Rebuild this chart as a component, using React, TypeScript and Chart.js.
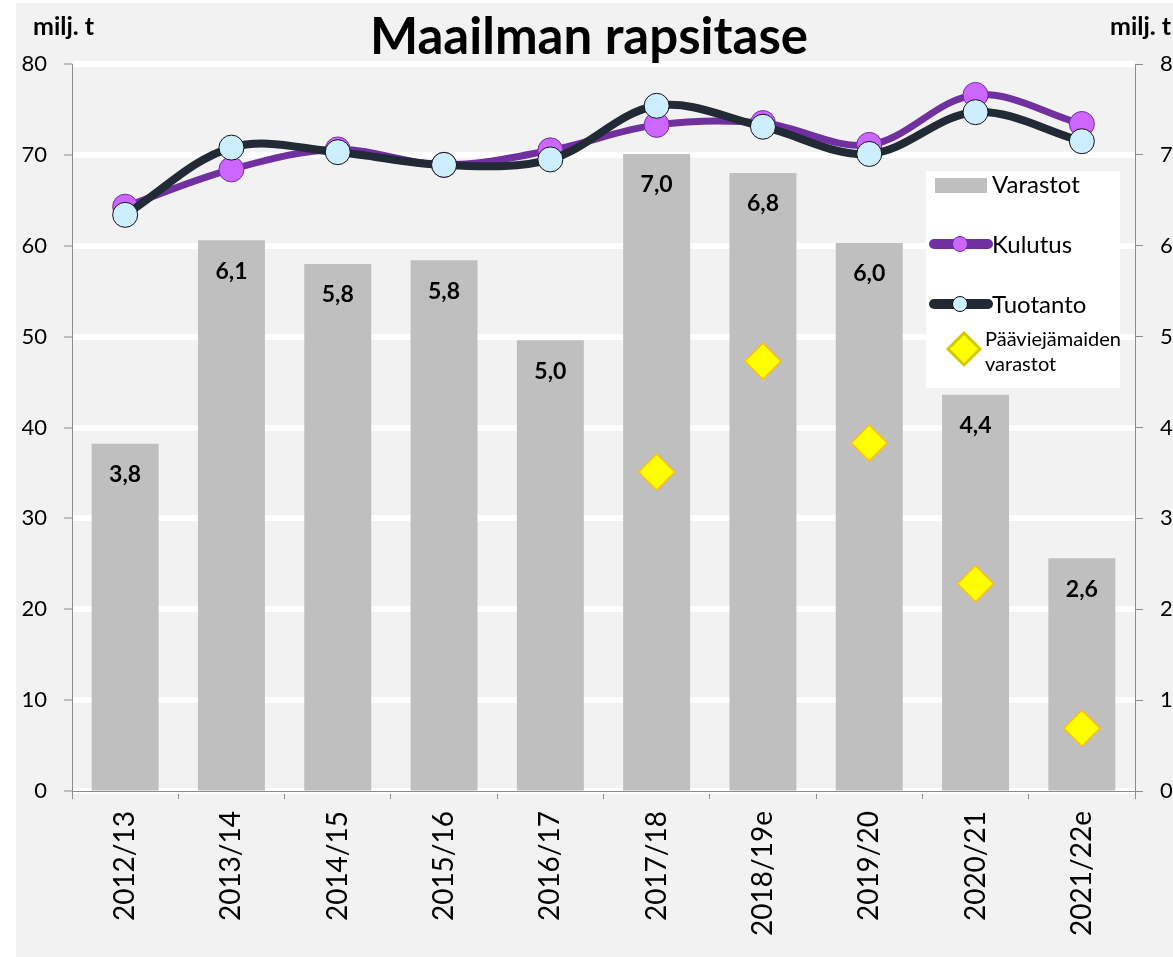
import React, { useEffect, useRef } from "react";
import { Chart, registerables } from "chart.js";

Chart.register(...registerables);

const categories = ["2012/13", "2013/14", "2014/15", "2015/16", "2016/17", "2017/18", "2018/19e", "2019/20", "2020/21", "2021/22e"];
const varastot = [3.82, 6.06, 5.8, 5.84, 4.96, 7.01, 6.8, 6.03, 4.36, 2.56];
const kulutus = [64.3, 68.4, 70.6, 68.9, 70.5, 73.3, 73.5, 71.1, 76.6, 73.4];
const tuotanto = [63.4, 70.8, 70.3, 68.9, 69.5, 75.4, 73.1, 70.1, 74.7, 71.5];
const paaviejaVarastot = [null, null, null, null, null, 3.51, 4.73, 3.83, 2.28, 0.69];
const leftTicks = [0, 10, 20, 30, 40, 50, 60, 70, 80];
const rightTicks = [0, 1, 2, 3, 4, 5, 6, 7, 8];

const FONT = "Lato";
const TITLE = "Maailman rapsitase";
const UNIT = "milj. t";

const COLORS = {
  bg: "#f2f2f2",
  bar: "#bfbfbf",
  kulLine: "#7030a0",
  kulFill: "#cc66ff",
  tuoLine: "#222a35",
  tuoFill: "#cdeeff",
  diaFill: "#ffff00",
  diaBorder: "#ffc000",
  axis: "#8c8c8c",
};

const overlayPlugin = {
  id: "overlay",
  afterDatasetsDraw(chart: any) {
    const ctx = chart.ctx;
    const meta = chart.getDatasetMeta(0);
    ctx.save();
    ctx.font = `bold 23px ${FONT}`;
    ctx.fillStyle = "#000";
    ctx.textAlign = "center";
    ctx.textBaseline = "middle";
    meta.data.forEach((bar: any, i: number) => {
      const txt = varastot[i].toFixed(1).replace(".", ",");
      ctx.fillText(txt, bar.x, bar.y + 31);
    });
    ctx.restore();
  },
  afterDraw(chart: any) {
    const ctx = chart.ctx;
    ctx.save();
    ctx.fillStyle = "#000";
    ctx.font = `bold 51px ${FONT}`;
    ctx.textAlign = "center";
    ctx.textBaseline = "alphabetic";
    ctx.fillText(TITLE, 573, 51);
    ctx.font = `bold 25px ${FONT}`;
    ctx.textAlign = "left";
    ctx.fillText(UNIT, 17, 32);
    ctx.fillText(UNIT, 1094, 32);

    // legend
    ctx.fillStyle = "#ffffff";
    ctx.fillRect(910, 168, 194, 217);
    ctx.fillStyle = COLORS.bar;
    ctx.fillRect(919, 175, 52, 15);
    ctx.fillStyle = "#000";
    ctx.font = `24px ${FONT}`;
    ctx.textBaseline = "middle";
    ctx.fillText("Varastot", 976, 182);
    const drawLineEntry = (y: number, line: string, fill: string, border: string, label: string) => {
      ctx.strokeStyle = line;
      ctx.lineWidth = 10;
      ctx.lineCap = "round";
      ctx.beginPath();
      ctx.moveTo(918, y);
      ctx.lineTo(972, y);
      ctx.stroke();
      ctx.fillStyle = fill;
      ctx.strokeStyle = border;
      ctx.lineWidth = 1;
      ctx.beginPath();
      ctx.arc(944, y, 7.5, 0, Math.PI * 2);
      ctx.fill();
      ctx.stroke();
      ctx.fillStyle = "#000";
      ctx.fillText(label, 976, y + 1);
    };
    drawLineEntry(241, COLORS.kulLine, COLORS.kulFill, COLORS.kulLine, "Kulutus");
    drawLineEntry(301, COLORS.tuoLine, COLORS.tuoFill, "#111", "Tuotanto");
    ctx.fillStyle = COLORS.diaFill;
    ctx.strokeStyle = "#d4c800";
    ctx.lineWidth = 3;
    ctx.beginPath();
    ctx.moveTo(948, 330);
    ctx.lineTo(964, 346);
    ctx.lineTo(948, 362);
    ctx.lineTo(932, 346);
    ctx.closePath();
    ctx.fill();
    ctx.stroke();
    ctx.fillStyle = "#000";
    ctx.font = `20px ${FONT}`;
    ctx.fillText("Pääviejämaiden", 969, 337);
    ctx.fillText("varastot", 969, 362);
    ctx.restore();
  },
};

export default function App() {
  const canvasRef = useRef<HTMLCanvasElement>(null);

  useEffect(() => {
    const chart = new Chart(canvasRef.current as HTMLCanvasElement, {
      type: "bar",
      data: {
        labels: categories,
        datasets: [
          {
            type: "bar",
            label: "Varastot",
            data: varastot,
            yAxisID: "y2",
            backgroundColor: COLORS.bar,
            barPercentage: 0.63,
            categoryPercentage: 1,
            order: 4,
          },
          {
            type: "line",
            label: "Pääviejämaiden varastot",
            data: paaviejaVarastot as any,
            yAxisID: "y2",
            showLine: false,
            pointStyle: "rectRot",
            pointRadius: 18,
            pointBackgroundColor: COLORS.diaFill,
            pointBorderColor: COLORS.diaBorder,
            pointBorderWidth: 1.5,
            order: 3,
          },
          {
            type: "line",
            label: "Kulutus",
            data: kulutus,
            yAxisID: "y",
            borderColor: COLORS.kulLine,
            borderWidth: 7,
            tension: 0.35,
            pointRadius: 12.5,
            pointBackgroundColor: COLORS.kulFill,
            pointBorderColor: COLORS.kulLine,
            pointBorderWidth: 1,
            order: 2,
          },
          {
            type: "line",
            label: "Tuotanto",
            data: tuotanto,
            yAxisID: "y",
            borderColor: COLORS.tuoLine,
            borderWidth: 8,
            tension: 0.35,
            pointRadius: 12.5,
            pointBackgroundColor: COLORS.tuoFill,
            pointBorderColor: "#111",
            pointBorderWidth: 1,
            order: 1,
          },
        ],
      },
      options: {
        animation: false,
        responsive: true,
        maintainAspectRatio: false,
        layout: { padding: { top: 61, left: 0, right: 0, bottom: 0 } },
        plugins: {
          legend: { display: false },
          title: { display: false },
          tooltip: { enabled: false },
        },
        scales: {
          x: {
            offset: true,
            grid: {
              offset: true,
              drawOnChartArea: false,
              tickLength: 8,
              tickColor: COLORS.axis,
              tickWidth: 1,
            },
            border: { color: COLORS.axis, width: 1 },
            ticks: {
              autoSkip: false,
              minRotation: 90,
              maxRotation: 90,
              padding: 12,
              color: "#000",
              font: { family: FONT, size: 28 },
            },
            afterFit: (s: any) => {
              s.height = 166;
            },
          },
          y: {
            position: "left",
            min: 0,
            max: 80,
            afterBuildTicks: (s: any) => {
              s.ticks = leftTicks.map((v) => ({ value: v }));
            },
            grid: {
              color: "#ffffff",
              lineWidth: 6,
              tickLength: 8,
              tickColor: COLORS.axis,
              tickWidth: 1,
            },
            border: { color: COLORS.axis, width: 1 },
            ticks: {
              padding: 17,
              color: "#000",
              font: { family: FONT, size: 22 },
            },
            afterFit: (s: any) => {
              s.width = 56;
            },
          },
          y2: {
            position: "right",
            min: 0,
            max: 8,
            afterBuildTicks: (s: any) => {
              s.ticks = rightTicks.map((v) => ({ value: v }));
            },
            grid: {
              drawOnChartArea: false,
              tickLength: 8,
              tickColor: COLORS.axis,
              tickWidth: 1,
            },
            border: { color: COLORS.axis, width: 1 },
            ticks: {
              padding: 17,
              color: "#000",
              font: { family: FONT, size: 22 },
            },
            afterFit: (s: any) => {
              s.width = 38;
            },
          },
        },
      },
      plugins: [overlayPlugin],
    } as any);
    return () => chart.destroy();
  }, []);

  return (
    <div
      style={{
        position: "fixed",
        left: 16,
        top: 3,
        width: 1157,
        height: 954,
        background: COLORS.bg,
      }}
    >
      <canvas ref={canvasRef} />
    </div>
  );
}
